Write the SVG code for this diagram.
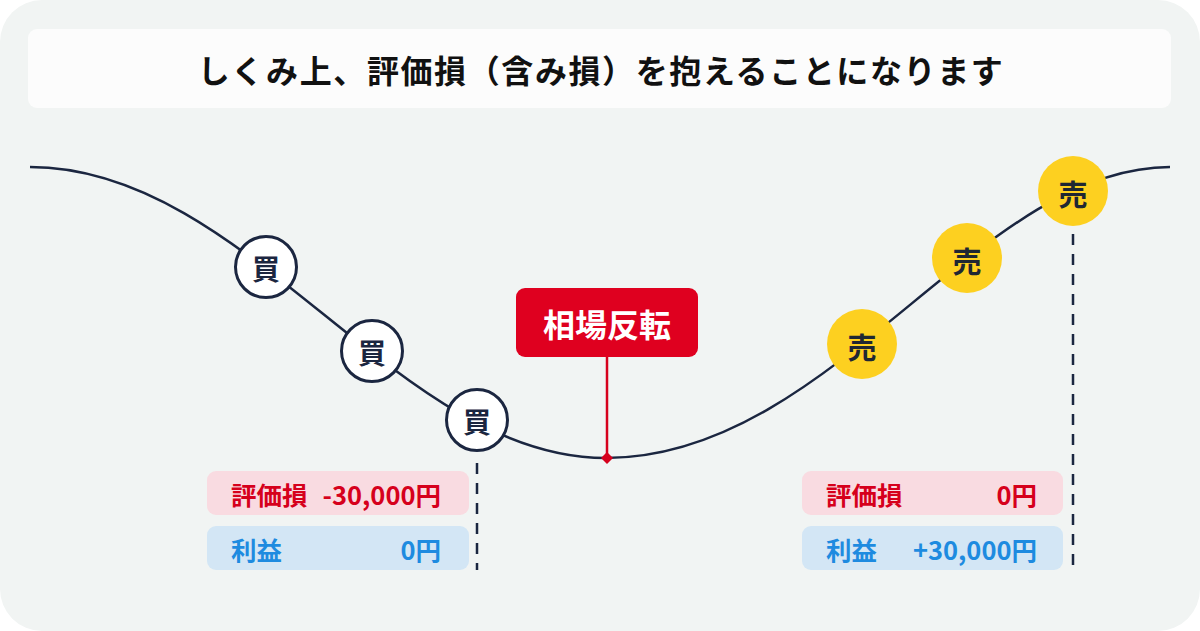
<svg xmlns="http://www.w3.org/2000/svg" width="1200" height="631" viewBox="0 0 1200 631">
<style>
.t{font-family:"Noto Sans CJK JP","Noto Sans",sans-serif;font-weight:700}
.curve{fill:none;stroke:#1b2640;stroke-width:2.5}
.dash{stroke:#1b2640;stroke-width:2.5;stroke-dasharray:11 9}
.buy{fill:#fff;stroke:#1b2640;stroke-width:3}
.sell{fill:#fdd020}
.mk{fill:#1b2640;font-size:28px}
.mk2{fill:#1f2733;font-size:29px}
.pk{fill:#f9dbe1}
.bl{fill:#d3e6f5}
.rt{fill:#d6001c;font-size:25.5px}
.bt{fill:#1e8be0;font-size:25.5px}
</style>
<rect x="0" y="0" width="1200" height="631" fill="#ffffff"/>
<rect x="0" y="0" width="1200" height="631" rx="42" fill="#f1f4f3"/>
<g id="title">
<rect x="28" y="29" width="1143" height="79" rx="9" fill="#fcfcfc"/>
<text class="t" x="601" y="69" font-size="32" text-anchor="middle" dominant-baseline="central" fill="#111" letter-spacing="1.6">しくみ上、評価損（含み損）を抱えることになります</text>
</g>
<g id="connectors">
<path class="curve" d="M30,167 C249,167 396,458 606,458 C832,458 978,167 1170,167"/>
<line class="dash" x1="477" y1="463" x2="477" y2="570"/>
<line class="dash" x1="1073" y1="234" x2="1073" y2="570"/>
<line x1="607" y1="356" x2="607" y2="458" stroke="#d6001c" stroke-width="2.5"/>
<path d="M607,452 L613,458 L607,464 L601,458 Z" fill="#d6001c"/>
</g>
<g id="buy1"><circle class="buy" cx="266" cy="267" r="30.5"/><text class="t mk" x="266" y="268" text-anchor="middle" dominant-baseline="central">買</text></g>
<g id="buy2"><circle class="buy" cx="372" cy="351" r="30.5"/><text class="t mk" x="372" y="352" text-anchor="middle" dominant-baseline="central">買</text></g>
<g id="buy3"><circle class="buy" cx="477" cy="420" r="30.5"/><text class="t mk" x="477" y="421" text-anchor="middle" dominant-baseline="central">買</text></g>
<g id="sell1"><circle class="sell" cx="862" cy="344" r="35"/><text class="t mk2" x="862" y="346" text-anchor="middle" dominant-baseline="central">売</text></g>
<g id="sell2"><circle class="sell" cx="967" cy="258" r="35"/><text class="t mk2" x="967" y="260" text-anchor="middle" dominant-baseline="central">売</text></g>
<g id="sell3"><circle class="sell" cx="1073" cy="191" r="35"/><text class="t mk2" x="1073" y="193" text-anchor="middle" dominant-baseline="central">売</text></g>
<g id="reversal">
<rect x="516" y="288" width="182" height="69" rx="9" fill="#df001f"/>
<text class="t" x="607" y="323" font-size="32" text-anchor="middle" dominant-baseline="central" fill="#fff">相場反転</text>
</g>
<g id="left-loss">
<rect class="pk" x="207" y="471" width="262" height="44" rx="9"/>
<text class="t rt" x="231" y="493" dominant-baseline="central">評価損</text>
<text class="t rt" x="441" y="493" text-anchor="end" dominant-baseline="central">-30,000円</text>
</g>
<g id="left-profit">
<rect class="bl" x="207" y="526" width="262" height="44" rx="9"/>
<text class="t bt" x="231" y="548" dominant-baseline="central">利益</text>
<text class="t bt" x="441" y="548" text-anchor="end" dominant-baseline="central">0円</text>
</g>
<g id="right-loss">
<rect class="pk" x="802" y="471" width="261" height="44" rx="9"/>
<text class="t rt" x="826" y="493" dominant-baseline="central">評価損</text>
<text class="t rt" x="1037" y="493" text-anchor="end" dominant-baseline="central">0円</text>
</g>
<g id="right-profit">
<rect class="bl" x="802" y="526" width="261" height="44" rx="9"/>
<text class="t bt" x="826" y="548" dominant-baseline="central">利益</text>
<text class="t bt" x="1037" y="548" text-anchor="end" dominant-baseline="central">+30,000円</text>
</g>
</svg>
